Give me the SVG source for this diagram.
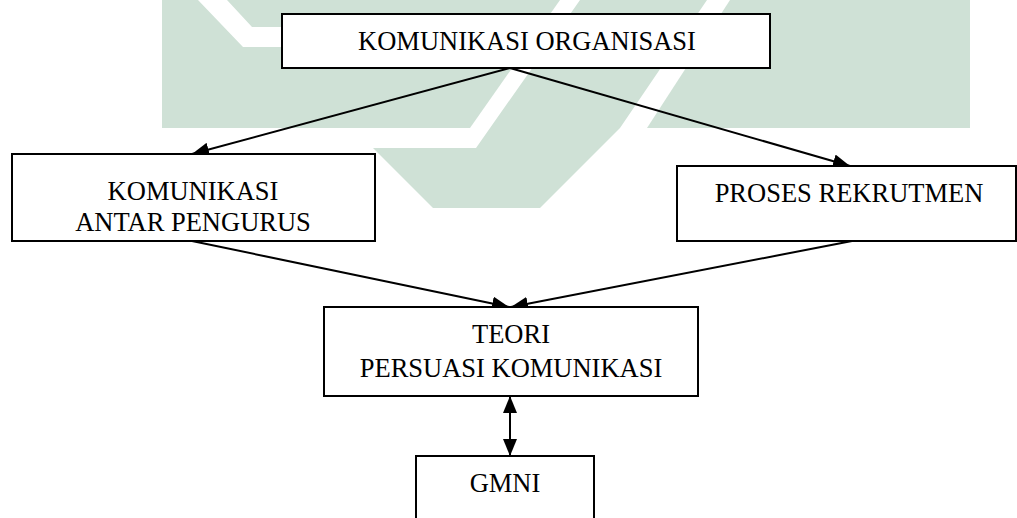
<svg xmlns="http://www.w3.org/2000/svg" width="1017" height="518" viewBox="0 0 1017 518">
<style>
.wm{fill:#cfe1d6;stroke:none}
.gap{fill:#ffffff;stroke:none}
.box{fill:#ffffff;stroke:#000000;stroke-width:2}
.lbl{font-family:"Liberation Serif","Times New Roman",serif;font-size:26.5px;fill:#000000;text-anchor:middle}
.conn{stroke:#000000;stroke-width:2;fill:none}
</style>
<defs>
<marker id="ah" markerUnits="userSpaceOnUse" markerWidth="18" markerHeight="14" refX="17" refY="7" orient="auto-start-reverse">
<path d="M0,0 L17,7 L0,14 z" fill="#000000"/>
</marker>
</defs>
<rect width="1017" height="518" fill="#ffffff"/>
<g id="watermark">
<polygon class="wm" points="162,0 560,0 470,128 162,128"/>
<polygon class="gap" points="198,0 227,0 252,27 290,27 290,47 243,47"/>
<polygon class="wm" points="580,0 707,0 620,128 540,208 433,208 373,148 476,148"/>
<polygon class="wm" points="730,0 970,0 970,128 647,128"/>
</g>
<g id="connectors">
<line class="conn" x1="510" y1="68" x2="192" y2="154" marker-end="url(#ah)"/>
<line class="conn" x1="510" y1="68" x2="850" y2="166" marker-end="url(#ah)"/>
<line class="conn" x1="192" y1="241" x2="509" y2="307" marker-end="url(#ah)"/>
<line class="conn" x1="852" y1="241" x2="511" y2="307" marker-end="url(#ah)"/>
<line class="conn" x1="510" y1="396" x2="510" y2="456" marker-start="url(#ah)" marker-end="url(#ah)"/>
</g>
<g id="komunikasi-organisasi">
<rect class="box" x="282" y="14" width="488" height="54"/>
<text class="lbl" x="527" y="50">KOMUNIKASI ORGANISASI</text>
</g>
<g id="komunikasi-antar-pengurus">
<rect class="box" x="12" y="154" width="363" height="87"/>
<text class="lbl" x="193" y="200">KOMUNIKASI</text>
<text class="lbl" x="193" y="231">ANTAR PENGURUS</text>
</g>
<g id="proses-rekrutmen">
<rect class="box" x="677" y="166" width="339" height="75"/>
<text class="lbl" x="849" y="202">PROSES REKRUTMEN</text>
</g>
<g id="teori-persuasi">
<rect class="box" x="324" y="307" width="374" height="89"/>
<text class="lbl" x="511" y="343">TEORI</text>
<text class="lbl" x="511" y="377">PERSUASI KOMUNIKASI</text>
</g>
<g id="gmni">
<rect class="box" x="416" y="456" width="178" height="80"/>
<text class="lbl" x="505" y="492">GMNI</text>
</g>
</svg>
